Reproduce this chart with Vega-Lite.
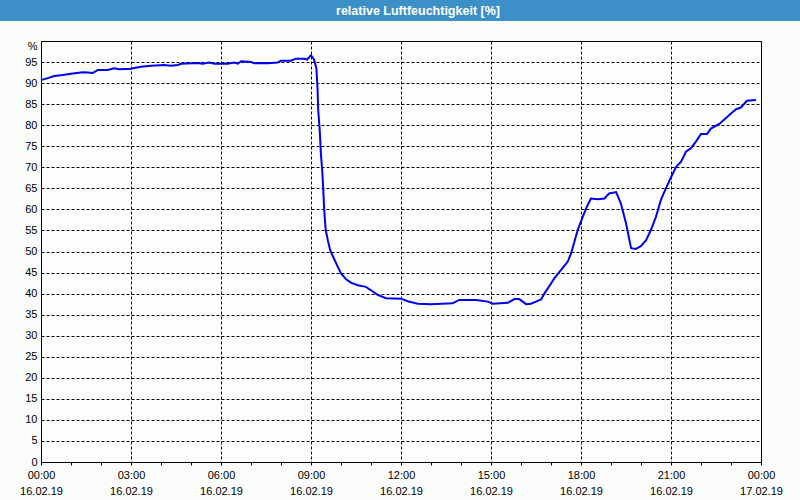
{
  "$schema": "https://vega.github.io/schema/vega-lite/v6.json",
  "padding": {"left": 0, "top": 0, "right": 0, "bottom": 4},
  "spacing": 18,
  "columns": 1,
  "background": "#fafcfa",
  "config": {
    "font": "Liberation Sans",
    "view": {"stroke": "black"}
  },
  "concat": [
    {
      "data": {"values": [{"t": "relative Luftfeuchtigkeit [%]"}]},
      "width": 760,
      "height": 21,
      "view": {"fill": "#3d8fc7", "stroke": null},
      "mark": {"type": "text", "color": "white", "fontWeight": "bold", "fontSize": 12.5, "font": "Liberation Sans", "dx": -3},
      "encoding": {
        "text": {"field": "t", "type": "nominal"},
        "y": {
          "field": "t", "type": "nominal",
          "axis": {
            "title": null,
            "labels": false,
            "ticks": false,
            "domain": true,
            "translate": 0,
            "domainColor": "#3d8fc7",
            "domainWidth": 82,
            "domainCap": "butt",
            "minExtent": 40,
            "maxExtent": 40
          }
        }
      }
    },
    {
      "data": {"values": [
        {"h": 0, "rh": 90.7}, {"h": 0.28, "rh": 91.3}, {"h": 0.44, "rh": 91.7}, {"h": 0.72, "rh": 91.9},
        {"h": 1.06, "rh": 92.3}, {"h": 1.39, "rh": 92.6}, {"h": 1.56, "rh": 92.5}, {"h": 1.72, "rh": 92.4},
        {"h": 1.89, "rh": 93.1}, {"h": 2.22, "rh": 93.1}, {"h": 2.44, "rh": 93.5}, {"h": 2.61, "rh": 93.3},
        {"h": 3.0, "rh": 93.4}, {"h": 3.11, "rh": 93.6}, {"h": 3.33, "rh": 93.9}, {"h": 3.67, "rh": 94.1},
        {"h": 4.11, "rh": 94.3}, {"h": 4.33, "rh": 94.1}, {"h": 4.56, "rh": 94.3}, {"h": 4.67, "rh": 94.6},
        {"h": 5.22, "rh": 94.8}, {"h": 5.39, "rh": 94.6}, {"h": 5.61, "rh": 94.9}, {"h": 5.78, "rh": 94.6},
        {"h": 6.22, "rh": 94.6}, {"h": 6.44, "rh": 94.9}, {"h": 6.56, "rh": 94.6}, {"h": 6.67, "rh": 95.2},
        {"h": 7.0, "rh": 95.0}, {"h": 7.11, "rh": 94.7}, {"h": 7.44, "rh": 94.8}, {"h": 7.56, "rh": 94.7},
        {"h": 7.89, "rh": 94.9}, {"h": 8.0, "rh": 95.3}, {"h": 8.33, "rh": 95.3}, {"h": 8.5, "rh": 95.8},
        {"h": 8.78, "rh": 95.8}, {"h": 8.87, "rh": 95.6}, {"h": 9.0, "rh": 96.6}, {"h": 9.1, "rh": 95.6},
        {"h": 9.18, "rh": 93.5}, {"h": 9.22, "rh": 88.4}, {"h": 9.24, "rh": 83.6}, {"h": 9.29, "rh": 78.9},
        {"h": 9.33, "rh": 73.3}, {"h": 9.38, "rh": 68.6}, {"h": 9.42, "rh": 63.0}, {"h": 9.44, "rh": 59.9},
        {"h": 9.49, "rh": 55.1}, {"h": 9.56, "rh": 52.7}, {"h": 9.64, "rh": 50.3}, {"h": 9.76, "rh": 48.4},
        {"h": 9.89, "rh": 46.4}, {"h": 10.0, "rh": 44.8}, {"h": 10.17, "rh": 43.4}, {"h": 10.33, "rh": 42.6},
        {"h": 10.56, "rh": 42.0}, {"h": 10.83, "rh": 41.6}, {"h": 11.0, "rh": 40.8}, {"h": 11.22, "rh": 39.7},
        {"h": 11.5, "rh": 38.9}, {"h": 12.0, "rh": 38.8}, {"h": 12.22, "rh": 38.2}, {"h": 12.56, "rh": 37.6},
        {"h": 13.0, "rh": 37.5}, {"h": 13.72, "rh": 37.7}, {"h": 13.94, "rh": 38.5}, {"h": 14.5, "rh": 38.5},
        {"h": 14.89, "rh": 38.1}, {"h": 15.06, "rh": 37.6}, {"h": 15.56, "rh": 37.8}, {"h": 15.78, "rh": 38.7},
        {"h": 15.94, "rh": 38.7}, {"h": 16.17, "rh": 37.5}, {"h": 16.33, "rh": 37.6}, {"h": 16.5, "rh": 38.1},
        {"h": 16.67, "rh": 38.6}, {"h": 16.78, "rh": 40.0}, {"h": 17.0, "rh": 42.4}, {"h": 17.11, "rh": 43.6},
        {"h": 17.33, "rh": 45.6}, {"h": 17.56, "rh": 47.6}, {"h": 17.67, "rh": 49.6}, {"h": 17.78, "rh": 52.3},
        {"h": 17.89, "rh": 55.1}, {"h": 18.06, "rh": 58.3}, {"h": 18.22, "rh": 61.0}, {"h": 18.33, "rh": 62.6},
        {"h": 18.56, "rh": 62.4}, {"h": 18.78, "rh": 62.6}, {"h": 18.94, "rh": 63.8}, {"h": 19.17, "rh": 64.1},
        {"h": 19.33, "rh": 61.4}, {"h": 19.5, "rh": 56.7}, {"h": 19.67, "rh": 50.8}, {"h": 19.83, "rh": 50.6},
        {"h": 20.0, "rh": 51.3}, {"h": 20.17, "rh": 52.7}, {"h": 20.33, "rh": 55.1}, {"h": 20.5, "rh": 58.3},
        {"h": 20.67, "rh": 62.4}, {"h": 20.83, "rh": 65.0}, {"h": 21.0, "rh": 67.6}, {"h": 21.17, "rh": 70.1},
        {"h": 21.33, "rh": 71.3}, {"h": 21.5, "rh": 73.7}, {"h": 21.67, "rh": 74.6}, {"h": 21.83, "rh": 76.1},
        {"h": 22.0, "rh": 77.9}, {"h": 22.2, "rh": 77.9}, {"h": 22.33, "rh": 79.2}, {"h": 22.61, "rh": 80.3},
        {"h": 23.0, "rh": 82.8}, {"h": 23.17, "rh": 83.8}, {"h": 23.33, "rh": 84.2}, {"h": 23.53, "rh": 85.8},
        {"h": 23.83, "rh": 86.0}
      ]},
      "width": 720,
      "height": 421,
      "view": {"fill": "#fcfefc", "stroke": "black", "strokeWidth": 1},
      "mark": {"type": "line", "color": "#0000f0", "strokeWidth": 2},
      "encoding": {
        "x": {
          "field": "h", "type": "quantitative",
          "scale": {"domain": [0, 24], "nice": false, "zero": false},
          "axis": {
            "title": null,
            "values": [0,1,2,3,4,5,6,7,8,9,10,11,12,13,14,15,16,17,18,19,20,21,22,23,24],
            "domainColor": "black",
            "tickColor": "black",
            "tickSize": 3,
            "labelPadding": 4,
            "labelColor": "black",
            "labelFontSize": 11,
            "labelLineHeight": 16,
            "labelOverlap": false,
            "labelFlush": false,
            "labelExpr": "datum.value % 3 === 0 ? [(datum.value % 24 < 10 ? '0' : '') + (datum.value % 24) + ':00', datum.value < 24 ? '16.02.19' : '17.02.19'] : ''",
            "grid": true,
            "gridColor": "black",
            "gridDash": [3, 2],
            "gridOpacity": {"condition": {"test": "datum.value % 3 !== 0", "value": 0}, "value": 1}
          }
        },
        "y": {
          "field": "rh", "type": "quantitative",
          "scale": {"domain": [0, 100], "nice": false},
          "axis": {
            "title": null,
            "values": [0,5,10,15,20,25,30,35,40,45,50,55,60,65,70,75,80,85,90,95,100],
            "domainColor": "black",
            "ticks": false,
            "labelPadding": 4,
            "labelColor": "black",
            "labelFontSize": 11,
            "labelOverlap": false,
            "labelOffset": {"condition": {"test": "datum.value === 100", "value": 5}, "value": 0},
            "labelExpr": "datum.value === 100 ? '%' : datum.label",
            "minExtent": 40,
            "maxExtent": 40,
            "grid": true,
            "gridColor": "black",
            "gridDash": [3, 2]
          }
        }
      }
    }
  ]
}
